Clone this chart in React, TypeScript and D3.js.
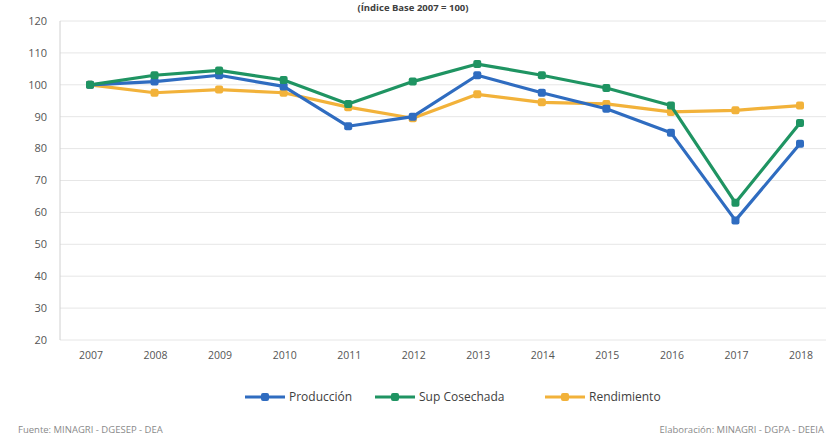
import React from "react";
import * as d3 from "d3";

const years = ["2007","2008","2009","2010","2011","2012","2013","2014","2015","2016","2017","2018"];
const produccion = [100, 101, 103, 99.5, 87, 90, 103, 97.5, 92.5, 85, 57.5, 81.5];
const supCosechada = [100, 103, 104.5, 101.5, 94, 101, 106.5, 103, 99, 93.5, 63, 88];
const rendimiento = [100, 97.5, 98.5, 97.5, 93, 89.5, 97, 94.5, 94, 91.5, 92, 93.5];
const yTicks = [20, 30, 40, 50, 60, 70, 80, 90, 100, 110, 120];
const seriesNames = ["Producción", "Sup Cosechada", "Rendimiento"];
const seriesColors = ["#2f6cc0", "#1f9462", "#f2b23a"];
const title = "(Índice Base 2007 = 100)";
const sourceLeft = "Fuente: MINAGRI - DGESEP - DEA";
const sourceRight = "Elaboración: MINAGRI - DGPA - DEEIA";

const W = 826, H = 439;
const plotLeft = 60, plotRight = 826, plotTop = 21, plotBottom = 340;

export default function App() {
  const x = d3.scalePoint<string>().domain(years).range([90, 800]);
  const y = d3.scaleLinear().domain([20, 120]).range([plotBottom, plotTop]);
  const line = d3.line<number>().x((_, i) => x(years[i]) as number).y((d) => y(d));
  const allSeries = [produccion, supCosechada, rendimiento];
  const font = "'Open Sans', 'Liberation Sans', sans-serif";
  const drawOrder = [2, 0, 1];
  const legendX = [245, 375, 545];

  return (
    <svg width={W} height={H} style={{ position: "absolute", left: 0, top: 0, background: "#fff" }} fontFamily={font}>
      <rect x={0} y={0} width={W} height={H} fill="#fff" />
      <text x={413} y={11} textAnchor="middle" fontSize={9.5} fontWeight="bold" fill="#404040">{title}</text>
      {yTicks.map((t) => (
        <g key={t}>
          <line x1={plotLeft} x2={plotRight} y1={y(t)} y2={y(t)} stroke="#e6e6e6" strokeWidth={1} />
          <text x={47} y={y(t)} dy="0.35em" textAnchor="end" fontSize={11} fill="#555">{t}</text>
        </g>
      ))}
      <line x1={plotLeft} x2={plotLeft} y1={plotTop} y2={plotBottom} stroke="#d0d0d0" />
      {years.map((yr) => (
        <text key={yr} x={(x(yr) as number) + 1} y={359} textAnchor="middle" fontSize={10.5} fill="#555">{yr}</text>
      ))}
      {drawOrder.map((si) => (
        <g key={si}>
          <path d={line(allSeries[si]) || ""} fill="none" stroke={seriesColors[si]} strokeWidth={3.2} strokeLinejoin="round" />
          {allSeries[si].map((v, i) => (
            <rect key={i} x={(x(years[i]) as number) - 4} y={y(v) - 4} width={8} height={8} rx={2} fill={seriesColors[si]} />
          ))}
        </g>
      ))}
      {seriesNames.map((n, i) => (
        <g key={n}>
          <line x1={legendX[i]} x2={legendX[i] + 40} y1={397} y2={397} stroke={seriesColors[i]} strokeWidth={3.2} />
          <rect x={legendX[i] + 16} y={393} width={8} height={8} rx={2} fill={seriesColors[i]} />
          <text x={legendX[i] + 44} y={397} dy="0.35em" fontSize={12} fill="#404040">{n}</text>
        </g>
      ))}
      <text x={18} y={433} fontSize={9.5} fill="#8a8a8a">{sourceLeft}</text>
      <text x={824} y={433} textAnchor="end" fontSize={9.5} fill="#8a8a8a">{sourceRight}</text>
    </svg>
  );
}
